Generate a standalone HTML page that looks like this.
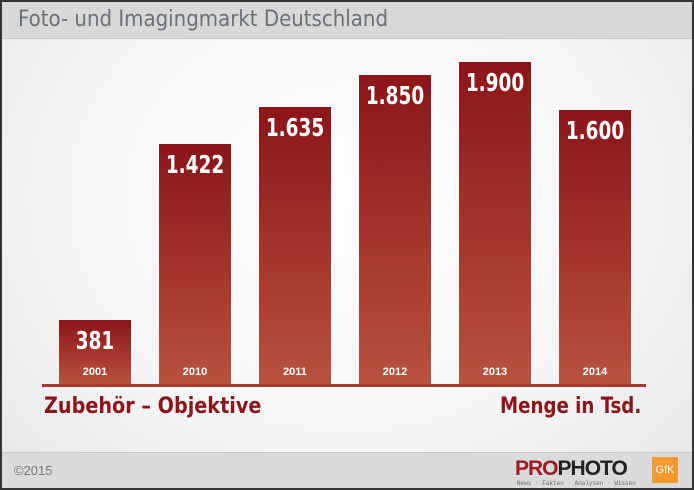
<!DOCTYPE html>
<html><head><meta charset="utf-8"><style>
body{margin:0;width:694px;height:490px;overflow:hidden;font-family:"Liberation Sans",sans-serif}
.f{position:absolute;left:0;top:0;width:690px;height:486px;border:2px solid #333;background:radial-gradient(ellipse at 50% 40%,#fff 0%,#f4f5f6 60%,#e4e6e8 100%);overflow:hidden}
.h{position:absolute;left:0;top:0;width:690px;height:36px;background:#d6d8da;border-bottom:1px solid #c8cacc}
.h span{position:absolute;left:16px;top:5px;font-size:22px;color:#6d7072;font-family:"DejaVu Sans Condensed","DejaVu Sans",sans-serif}
.b{position:absolute;width:72px;background:linear-gradient(#8c1519,#a8392e 60%,#b6533f);color:#fff;text-align:center}
.b .v{position:absolute;left:-10px;right:-10px;top:6px;font-size:25px;font-weight:bold;font-family:"DejaVu Sans Condensed",sans-serif;transform:scaleX(0.82)}
.b .y{position:absolute;left:0;right:0;bottom:6px;font-size:11px;font-weight:bold}
.ax{position:absolute;left:40px;top:382px;width:604px;height:3px;background:#a53a2e}
.l{position:absolute;top:392px;font-size:22px;color:#8c1519;font-weight:bold;font-family:"DejaVu Sans Condensed",sans-serif;transform-origin:0 0}
.ft{position:absolute;left:0;top:450px;width:690px;height:36px;background:#d9dbdd;border-top:1px solid #c4c6c8}
</style></head><body><div class="f">
<div class="h"><span>Foto- und Imagingmarkt Deutschland</span></div>
<div class="b" style="left:57px;top:318px;height:64px"><div class="v">381</div><div class="y">2001</div></div>
<div class="b" style="left:157px;top:142px;height:240px"><div class="v">1.422</div><div class="y">2010</div></div>
<div class="b" style="left:257px;top:105px;height:277px"><div class="v">1.635</div><div class="y">2011</div></div>
<div class="b" style="left:357px;top:73px;height:309px"><div class="v">1.850</div><div class="y">2012</div></div>
<div class="b" style="left:457px;top:60px;height:322px"><div class="v">1.900</div><div class="y">2013</div></div>
<div class="b" style="left:557px;top:108px;height:274px"><div class="v">1.600</div><div class="y">2014</div></div>
<div class="ax"></div>
<div class="l" style="left:42px;transform:scaleX(0.97)">Zubehör – Objektive</div>
<div class="l" style="left:498px;transform:scaleX(0.92)">Menge in Tsd.</div>
<div class="ft">
<span style="position:absolute;left:12px;top:10px;font-size:13px;color:#777">©2015</span>
<span style="position:absolute;left:513px;top:4px;font-size:21px;font-weight:bold;color:#222;letter-spacing:-1px"><span style="color:#a01a1e">PRO</span>PHOTO</span>
<span style="position:absolute;left:515px;top:27px;font-size:6px;color:#666;font-family:'Liberation Mono',monospace">News · Fakten · Analysen · Wissen</span>
<span style="position:absolute;left:650px;top:4px;width:26px;height:26px;background:#f29a2e;color:#fff;font-size:11px;text-align:center;line-height:26px">GfK</span>
</div>
</div></body></html>
